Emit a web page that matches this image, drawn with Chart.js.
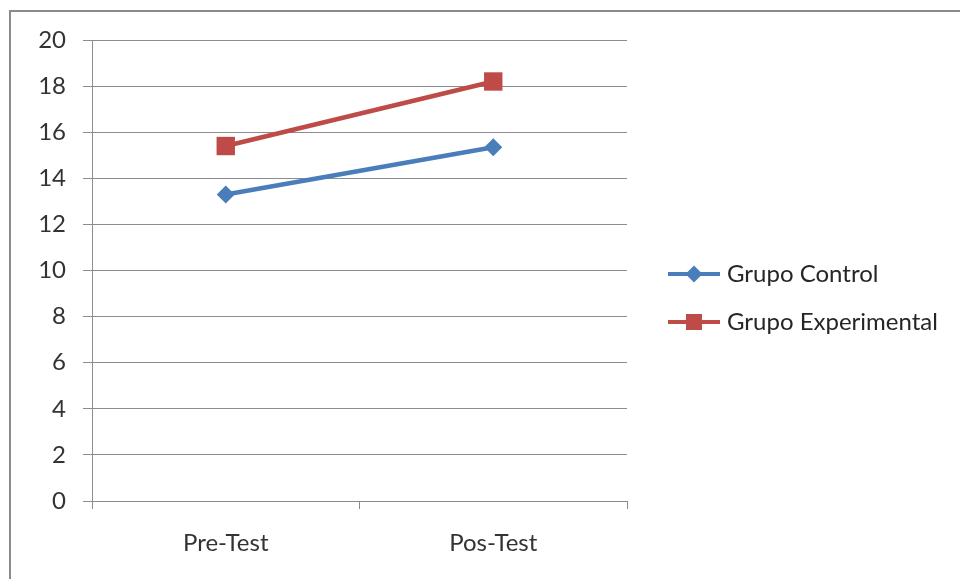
<!DOCTYPE html>
<html>
<head>
<meta charset="utf-8">
<script src="https://cdn.jsdelivr.net/npm/chart.js@4.4.1/dist/chart.umd.min.js"></script>
<style>
  html, body { margin: 0; padding: 0; background: #fff; }
  .wrap { position: relative; width: 960px; height: 579px; overflow: hidden; }
  .frame {
    position: absolute; left: 9px; top: 10px; width: 1000px; height: 1000px;
    border: 2px solid #8a8a8a; box-sizing: border-box;
  }
  canvas { position: absolute; left: 0; top: 0; }
  .legend { position: absolute; left: 668px; top: 0; font-family: Lato, 'Open Sans', sans-serif; font-size: 24px; line-height: 28px; color: #262626; }
  .legend .item { position: absolute; left: 0; height: 24px; white-space: nowrap; }
  .legend .line { position: absolute; left: 0; top: 10px; width: 52px; height: 4px; }
  .legend .mark { position: absolute; }
  .legend .txt { position: absolute; left: 59px; top: -3px; }
</style>
</head>
<body>
<div class="wrap">
  <div class="frame"></div>
  <canvas id="chart" width="960" height="579"></canvas>
  <div class="legend" id="legend"></div>
</div>
<script>
const categories = ['Pre-Test', 'Pos-Test'];
const seriesNames = ['Grupo Control', 'Grupo Experimental'];
const controlValues = [13.3, 15.35];
const experimentalValues = [15.4, 18.2];
const yTicks = [0, 2, 4, 6, 8, 10, 12, 14, 16, 18, 20];

const blue = '#4a7ebb';
const red = '#be4b48';
const gridColor = '#8c8c8c';
const font = { family: "Lato, 'Open Sans', sans-serif", size: 24 };

const ctx = document.getElementById('chart');

new Chart(ctx, {
  type: 'line',
  data: {
    labels: categories,
    datasets: [
      {
        label: seriesNames[0],
        data: controlValues,
        borderColor: blue,
        backgroundColor: blue,
        borderWidth: 4.5,
        pointStyle: 'rectRot',
        pointRadius: 9,
        pointBorderWidth: 0,
        tension: 0,
      },
      {
        label: seriesNames[1],
        data: experimentalValues,
        borderColor: red,
        backgroundColor: red,
        borderWidth: 4.5,
        pointStyle: 'rect',
        pointRadius: 13,
        pointBorderWidth: 0,
        tension: 0,
      },
    ],
  },
  options: {
    responsive: false,
    animation: false,
    layout: { padding: { top: 40, right: 333, bottom: 0, left: 0 } },
    plugins: {
      legend: { display: false },
      tooltip: { enabled: false },
    },
    scales: {
      x: {
        offset: true,
        grid: {
          offset: true,
          drawOnChartArea: false,
          drawTicks: true,
          tickLength: 8,
          color: gridColor,
        },
        border: { color: gridColor, width: 1 },
        ticks: { font: font, color: '#333', padding: 20 },
        afterFit: (s) => { s.height = 78; },
      },
      y: {
        min: 0,
        max: 20,
        afterBuildTicks: (s) => { s.ticks = yTicks.map((v) => ({ value: v })); },
        grid: { color: gridColor, tickLength: 9, lineWidth: 1 },
        border: { color: gridColor, width: 1 },
        ticks: { font: font, color: '#333', padding: 17 },
        afterFit: (s) => { s.width = 92; },
      },
    },
  },
});

//html legend with line + marker
const legendEl = document.getElementById('legend');
const legendRows = [
  { name: seriesNames[0], color: blue, top: 262, diamond: true },
  { name: seriesNames[1], color: red, top: 310, diamond: false },
];
legendRows.forEach((r) => {
  const item = document.createElement('div');
  item.className = 'item';
  item.style.top = r.top + 'px';
  const line = document.createElement('div');
  line.className = 'line';
  line.style.background = r.color;
  const mark = document.createElement('div');
  mark.className = 'mark';
  mark.style.background = r.color;
  if (r.diamond) {
    mark.style.width = '12px';
    mark.style.height = '12px';
    mark.style.left = '20px';
    mark.style.top = '6px';
    mark.style.transform = 'rotate(45deg)';
  } else {
    mark.style.width = '16px';
    mark.style.height = '16px';
    mark.style.left = '18px';
    mark.style.top = '4px';
  }
  const txt = document.createElement('div');
  txt.className = 'txt';
  txt.textContent = r.name;
  item.appendChild(line);
  item.appendChild(mark);
  item.appendChild(txt);
  legendEl.appendChild(item);
});
</script>
</body>
</html>
